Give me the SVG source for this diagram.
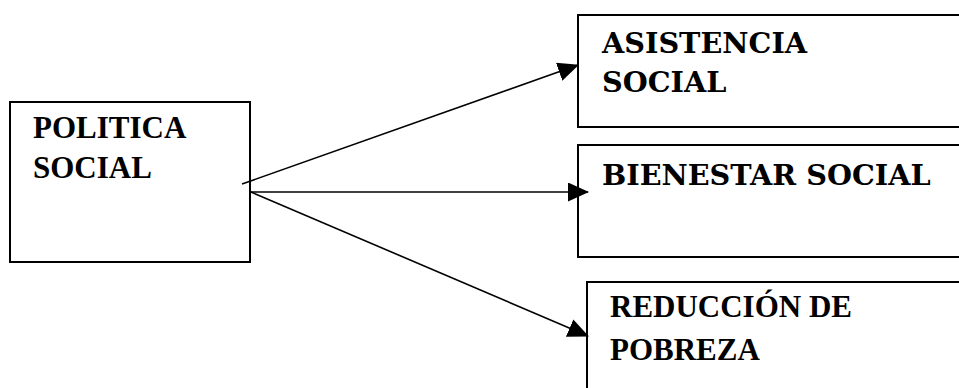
<svg xmlns="http://www.w3.org/2000/svg" width="959" height="388" viewBox="0 0 959 388">
<style>
.box{fill:#fff;stroke:#000;stroke-width:2}
.tms{font-family:'Liberation Serif','Times New Roman',serif;font-weight:bold;font-size:31px;fill:#000}
.dvs{font-family:'DejaVu Serif',serif;font-weight:bold;font-size:28.7px;fill:#000}
.ln{stroke:#000;stroke-width:1.6;fill:none}
</style>
<defs>
<marker id="ah" markerWidth="21" markerHeight="19" refX="20" refY="9.5" orient="auto" markerUnits="userSpaceOnUse">
<path d="M0,0 L21,9.5 L0,19 Z" fill="#000"/>
</marker>
</defs>
<rect width="959" height="388" fill="#fff"/>
<g id="politica">
<rect class="box" x="10" y="102" width="240" height="160"/>
<text class="tms" x="33" y="138">POLITICA</text>
<text class="tms" x="33" y="178">SOCIAL</text>
</g>
<g id="asistencia">
<rect class="box" x="578" y="15" width="400" height="112"/>
<text class="dvs" x="602" y="53">ASISTENCIA</text>
<text class="dvs" x="602" y="92">SOCIAL</text>
</g>
<g id="bienestar">
<rect class="box" x="578" y="145" width="400" height="112"/>
<text class="dvs" x="602" y="185">BIENESTAR SOCIAL</text>
</g>
<g id="reduccion">
<rect class="box" x="587" y="282" width="400" height="120"/>
<text class="tms" x="610" y="317">REDUCCIÓN DE</text>
<text class="tms" x="610" y="360">POBREZA</text>
</g>
<g id="connectors">
<line class="ln" x1="242" y1="184" x2="578" y2="65" marker-end="url(#ah)"/>
<line class="ln" x1="251" y1="192" x2="588" y2="192" marker-end="url(#ah)"/>
<line class="ln" x1="251" y1="192" x2="588" y2="336" marker-end="url(#ah)"/>
</g>
</svg>
